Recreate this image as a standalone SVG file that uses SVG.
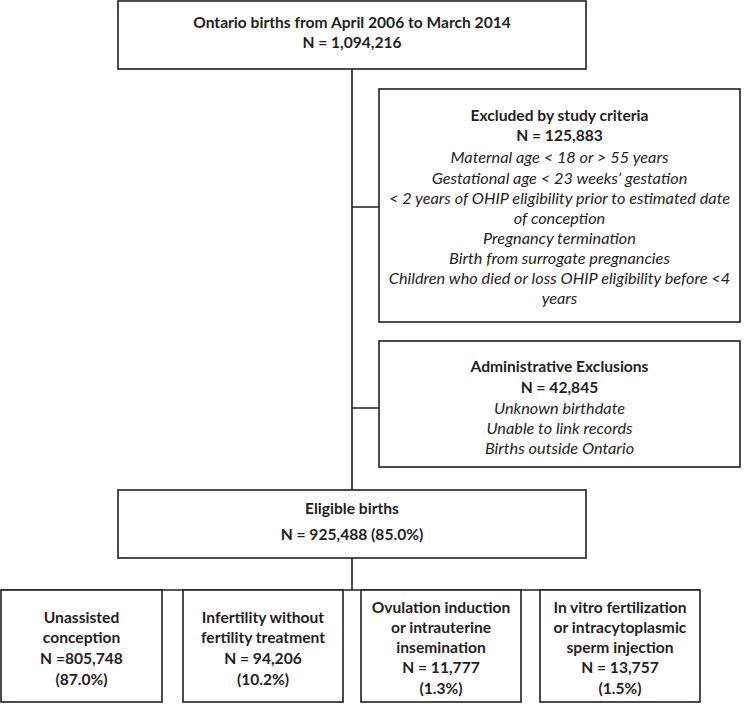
<svg xmlns="http://www.w3.org/2000/svg" width="744" height="704" viewBox="0 0 744 704">
<style>
.box{fill:#fff;stroke:#231f20;stroke-width:1.6}
.ln{fill:none;stroke:#231f20;stroke-width:1.6}
text{font-family:Lato,"Open Sans","Liberation Sans",sans-serif;font-size:15.6px;fill:#231f20;text-anchor:middle;dominant-baseline:central}
.b{font-weight:bold}
.i{font-style:italic;font-size:16.3px}
</style>
<rect width="744" height="704" fill="#fff"/>
<g id="connectors">
<path class="ln" d="M352 69 V490 M352 207 H379 M352 408 H379 M352 558 V590 M1 590 H700"/>
</g>
<g id="n_top">
<rect class="box" x="118" y="1" width="468" height="68"/>
<text class="b" x="352" y="22">Ontario births from April 2006 to March 2014</text>
<text class="b" x="352" y="42">N = 1,094,216</text>
</g>
<g id="n_excluded">
<rect class="box" x="379" y="89" width="361" height="233"/>
<text class="b" x="559.5" y="115">Excluded by study criteria</text>
<text class="b" x="559.5" y="135">N = 125,883</text>
<text class="i" x="559.5" y="156">Maternal age &lt; 18 or &gt; 55 years</text>
<text class="i" x="559.5" y="177">Gestational age &lt; 23 weeks’ gestation</text>
<text class="i" x="559.5" y="197">&lt; 2 years of OHIP eligibility prior to estimated date</text>
<text class="i" x="559.5" y="217">of conception</text>
<text class="i" x="559.5" y="237">Pregnancy termination</text>
<text class="i" x="559.5" y="257">Birth from surrogate pregnancies</text>
<text class="i" x="559.5" y="277">Children who died or loss OHIP eligibility before &lt;4</text>
<text class="i" x="559.5" y="297">years</text>
</g>
<g id="n_admin">
<rect class="box" x="379" y="341" width="361" height="126"/>
<text class="b" x="559.5" y="366">Administrative Exclusions</text>
<text class="b" x="559.5" y="387">N = 42,845</text>
<text class="i" x="559.5" y="407">Unknown birthdate</text>
<text class="i" x="559.5" y="427">Unable to link records</text>
<text class="i" x="559.5" y="447">Births outside Ontario</text>
</g>
<g id="n_eligible">
<rect class="box" x="118" y="490" width="468" height="68"/>
<text class="b" x="352" y="508">Eligible births</text>
<text class="b" x="352" y="534">N = 925,488 (85.0%)</text>
</g>
<g id="n_unassisted">
<rect class="box" x="1" y="590" width="161" height="112"/>
<text class="b" x="81.5" y="617">Unassisted</text>
<text class="b" x="81.5" y="637">conception</text>
<text class="b" x="81.5" y="658">N =805,748</text>
<text class="b" x="81.5" y="679">(87.0%)</text>
</g>
<g id="n_infertility">
<rect class="box" x="183" y="590" width="160" height="112"/>
<text class="b" x="263" y="617">Infertility without</text>
<text class="b" x="263" y="637">fertility treatment</text>
<text class="b" x="263" y="658">N = 94,206</text>
<text class="b" x="263" y="679">(10.2%)</text>
</g>
<g id="n_ovulation">
<rect class="box" x="361" y="590" width="160" height="112"/>
<text class="b" x="441" y="607">Ovulation induction</text>
<text class="b" x="441" y="627">or intrauterine</text>
<text class="b" x="441" y="647">insemination</text>
<text class="b" x="441" y="667">N = 11,777</text>
<text class="b" x="441" y="688">(1.3%)</text>
</g>
<g id="n_ivf">
<rect class="box" x="540" y="590" width="160" height="112"/>
<text class="b" x="620" y="607">In vitro fertilization</text>
<text class="b" x="620" y="627">or intracytoplasmic</text>
<text class="b" x="620" y="647">sperm injection</text>
<text class="b" x="620" y="667">N = 13,757</text>
<text class="b" x="620" y="688">(1.5%)</text>
</g>
</svg>
